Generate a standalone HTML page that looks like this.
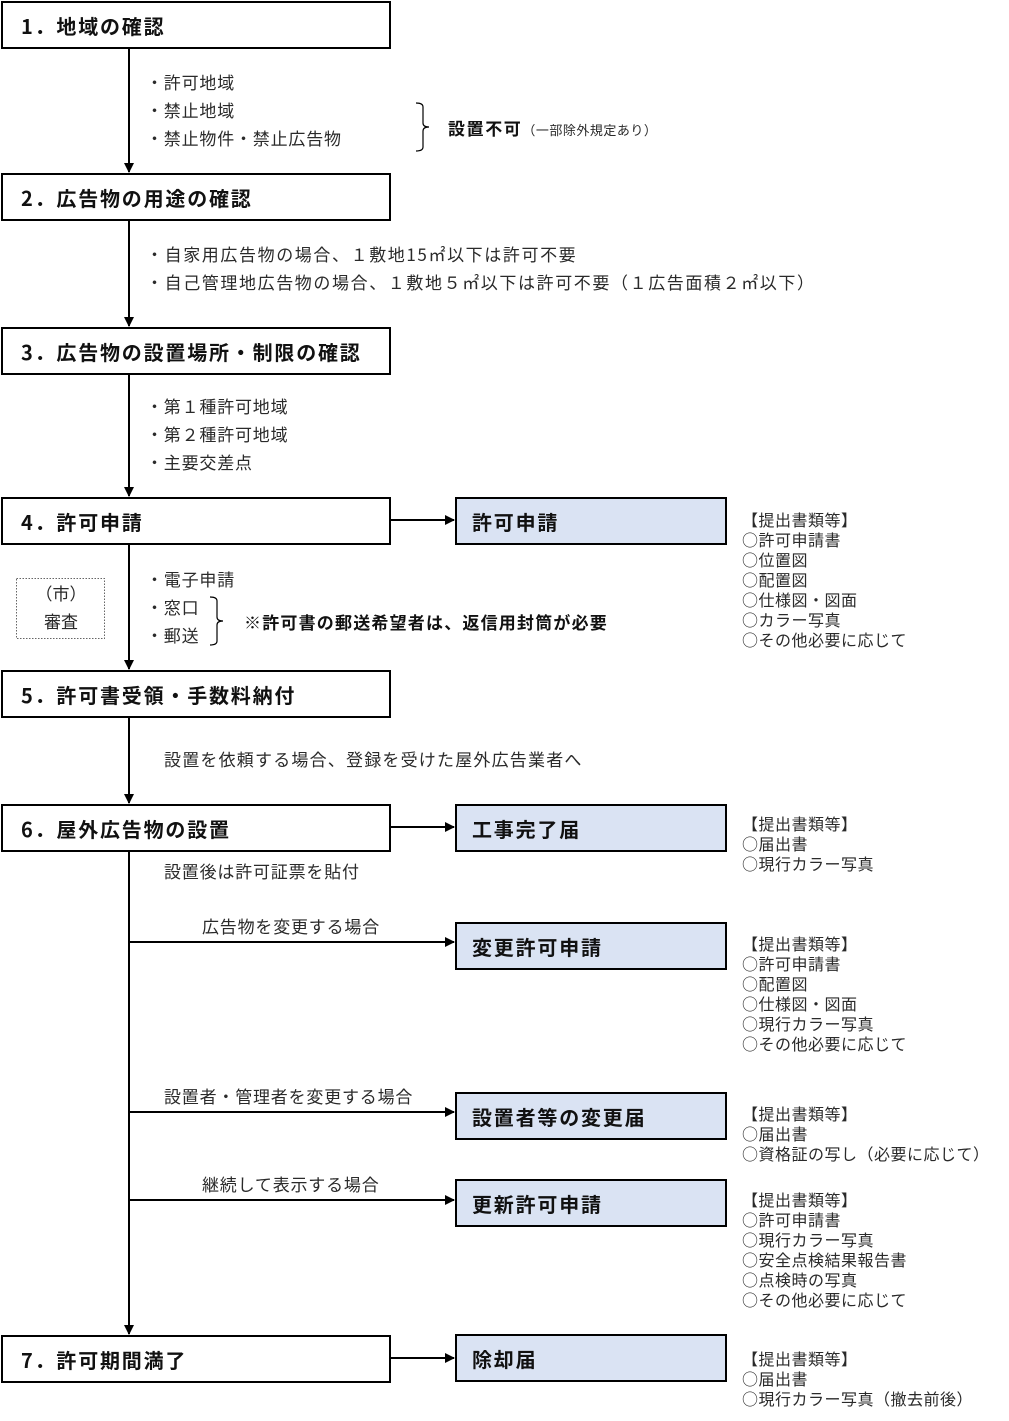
<!DOCTYPE html>
<html><head><meta charset="utf-8"><style>
body{margin:0;width:1009px;height:1421px;background:#fff;position:relative;overflow:hidden;font-family:"Noto Sans CJK JP","Liberation Sans",sans-serif;}
.b{position:absolute;box-sizing:border-box;border:2px solid #000;background:#fff;font-weight:bold;font-size:20px;letter-spacing:1.8px;padding-left:18px;display:flex;align-items:center;color:#111}
.r{background:#dae3f3;left:455px;width:272px;padding-left:15px}
.t{position:absolute;font-size:17px;letter-spacing:1.6px;color:#2a2a2a;white-space:nowrap;line-height:28px}
.d{position:absolute;font-size:16px;letter-spacing:0.5px;color:#2a2a2a;line-height:20px;white-space:nowrap;left:742px}
svg{position:absolute;left:0;top:0}
</style></head><body>
<svg width="1009" height="1421">
<defs><marker id="a" markerWidth="10" markerHeight="10" refX="9" refY="5" orient="auto" markerUnits="userSpaceOnUse"><path d="M0,0 L10,5 L0,10z" fill="#000"/></marker></defs>
<g stroke="#000" stroke-width="2" fill="none">
<line x1="129" y1="48" x2="129" y2="172" marker-end="url(#a)"/>
<line x1="129" y1="220" x2="129" y2="326" marker-end="url(#a)"/>
<line x1="129" y1="374" x2="129" y2="496" marker-end="url(#a)"/>
<line x1="129" y1="544" x2="129" y2="669" marker-end="url(#a)"/>
<line x1="129" y1="717" x2="129" y2="803" marker-end="url(#a)"/>
<line x1="129" y1="851" x2="129" y2="1334" marker-end="url(#a)"/>
<line x1="390" y1="520" x2="454" y2="520" marker-end="url(#a)"/>
<line x1="390" y1="827" x2="454" y2="827" marker-end="url(#a)"/>
<line x1="129" y1="942" x2="454" y2="942" marker-end="url(#a)"/>
<line x1="129" y1="1112" x2="454" y2="1112" marker-end="url(#a)"/>
<line x1="129" y1="1200" x2="454" y2="1200" marker-end="url(#a)"/>
<line x1="390" y1="1358" x2="454" y2="1358" marker-end="url(#a)"/>
</g>
<g stroke="#000" stroke-width="1.2" fill="none">
<path d="M416,103 q7,0 7,4 v16 q0,4 6,4 q-6,0 -6,4 v16 q0,4 -7,4"/>
<path d="M210,597 q7,0 7,4 v16 q0,4 6,4 q-6,0 -6,4 v16 q0,4 -7,4"/>
</g>
<rect x="16.5" y="578.5" width="88" height="60" fill="none" stroke="#666" stroke-dasharray="1.5,1.5"/>
</svg>
<div class="b" style="left:1px;top:1px;width:390px;height:48px">1．地域の確認</div>
<div class="b" style="left:1px;top:173px;width:390px;height:48px">2．広告物の用途の確認</div>
<div class="b" style="left:1px;top:327px;width:390px;height:48px">3．広告物の設置場所・制限の確認</div>
<div class="b" style="left:1px;top:497px;width:390px;height:48px">4．許可申請</div>
<div class="b" style="left:1px;top:670px;width:390px;height:48px">5．許可書受領・手数料納付</div>
<div class="b" style="left:1px;top:804px;width:390px;height:48px">6．屋外広告物の設置</div>
<div class="b" style="left:1px;top:1335px;width:390px;height:48px">7．許可期間満了</div>
<div class="b r" style="top:497px;height:48px">許可申請</div>
<div class="b r" style="top:804px;height:48px">工事完了届</div>
<div class="b r" style="top:922px;height:48px">変更許可申請</div>
<div class="b r" style="top:1092px;height:48px">設置者等の変更届</div>
<div class="b r" style="top:1179px;height:48px">更新許可申請</div>
<div class="b r" style="top:1334px;height:48px">除却届</div>
<div class="t" style="left:146px;top:68px;letter-spacing:0.8px">・許可地域<br>・禁止地域<br>・禁止物件・禁止広告物</div>
<div class="t" style="left:448px;top:114px"><b style="color:#111">設置不可</b><span style="font-size:13px;letter-spacing:0.5px">（一部除外規定あり）</span></div>
<div class="t" style="left:146px;top:240px">・自家用広告物の場合、１敷地15㎡以下は許可不要<br>・自己管理地広告物の場合、１敷地５㎡以下は許可不要（１広告面積２㎡以下）</div>
<div class="t" style="left:146px;top:392px;letter-spacing:0.8px">・第１種許可地域<br>・第２種許可地域<br>・主要交差点</div>
<div class="t" style="left:146px;top:565px;letter-spacing:0.8px">・電子申請<br>・窓口<br>・郵送</div>
<div class="t" style="left:244px;top:608px;font-weight:bold;color:#111;letter-spacing:1.2px">※許可書の郵送希望者は、返信用封筒が必要</div>
<div class="t" style="left:17px;top:579px;width:88px;text-align:center;letter-spacing:0">（市）<br>審査</div>
<div class="t" style="left:164px;top:745px;letter-spacing:1.2px">設置を依頼する場合、登録を受けた屋外広告業者へ</div>
<div class="t" style="left:164px;top:857px;letter-spacing:0.8px">設置後は許可証票を貼付</div>
<div class="t" style="left:202px;top:912px;letter-spacing:0.8px">広告物を変更する場合</div>
<div class="t" style="left:164px;top:1082px;letter-spacing:0.8px">設置者・管理者を変更する場合</div>
<div class="t" style="left:202px;top:1170px;letter-spacing:0.8px">継続して表示する場合</div>
<div class="d" style="top:509px">【提出書類等】<br>○許可申請書<br>○位置図<br>○配置図<br>○仕様図・図面<br>○カラー写真<br>○その他必要に応じて</div>
<div class="d" style="top:813px">【提出書類等】<br>○届出書<br>○現行カラー写真</div>
<div class="d" style="top:933px">【提出書類等】<br>○許可申請書<br>○配置図<br>○仕様図・図面<br>○現行カラー写真<br>○その他必要に応じて</div>
<div class="d" style="top:1103px">【提出書類等】<br>○届出書<br>○資格証の写し（必要に応じて）</div>
<div class="d" style="top:1189px">【提出書類等】<br>○許可申請書<br>○現行カラー写真<br>○安全点検結果報告書<br>○点検時の写真<br>○その他必要に応じて</div>
<div class="d" style="top:1348px">【提出書類等】<br>○届出書<br>○現行カラー写真（撤去前後）</div>
</body></html>
